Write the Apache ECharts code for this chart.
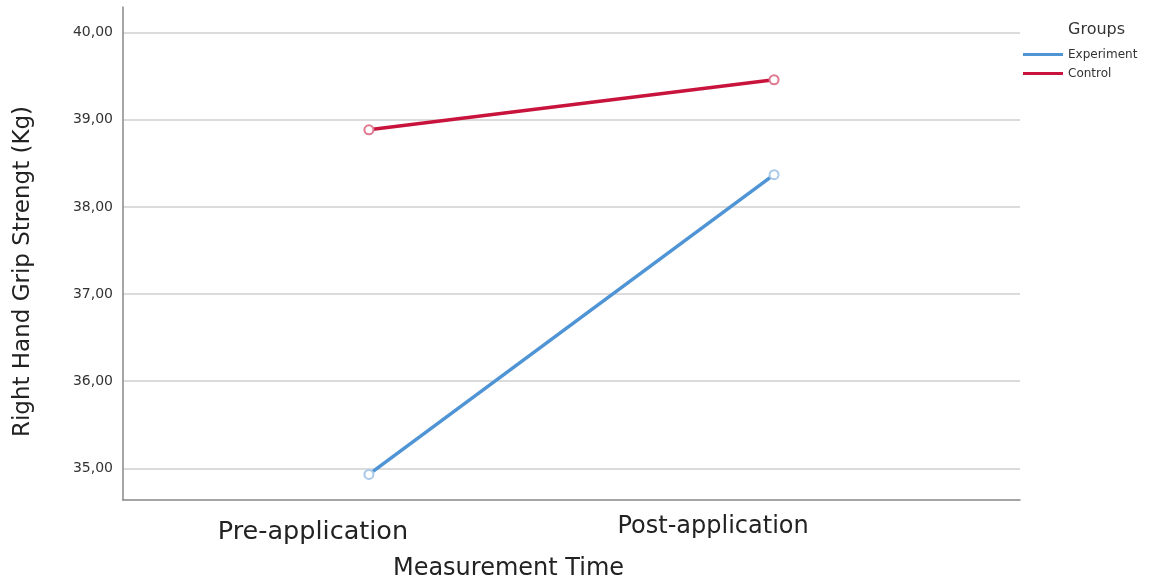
<!DOCTYPE html>
<html>
<head>
<meta charset="utf-8">
<script src="https://cdn.jsdelivr.net/npm/echarts@6/dist/echarts.min.js"></script>
<style>html,body{margin:0;padding:0;background:#fff}#c{width:1149px;height:588px}</style>
</head>
<body>
<div id="c"></div>
<script>
var categories = ['Pre-application', 'Post-application'];
var experiment = [34.93, 38.37];
var control = [38.885, 39.46];
var yTicks = [35, 36, 37, 38, 39, 40];
var seriesNames = ['Experiment', 'Control'];
var lineColors = ['#4f94d4', '#c8143c'];
var markerColors = ['#a8c9ea', '#e07890'];

function pts(vals) { return vals.map(function (v, i) { return [i, v]; }); }

var chart = echarts.init(document.getElementById('c'));
chart.setOption({
  animation: false,
  backgroundColor: '#fff',
  title: {
    text: 'Groups', left: 1068, top: 22, padding: 0,
    textStyle: { fontFamily: 'DejaVu Sans', fontSize: 16, fontWeight: 'normal', color: '#333' }
  },
  legend: {
    orient: 'vertical', left: 1023, top: 45, padding: 0,
    data: seriesNames.map(function (n, i) {
      return { name: n, itemStyle: { color: lineColors[i], borderWidth: 0 } };
    }),
    icon: 'rect', itemWidth: 40, itemHeight: 3, itemGap: 0,
    itemStyle: { borderWidth: 0 },
    textStyle: { fontFamily: 'DejaVu Sans', fontSize: 12, color: '#333', lineHeight: 19 }
  },
  grid: { left: 123, right: 129, top: 7, bottom: 88, containLabel: false },
  xAxis: {
    type: 'value', min: -0.607, max: 1.607,
    name: 'Measurement Time', nameLocation: 'middle', nameGap: 57,
    nameTextStyle: { fontFamily: 'DejaVu Sans', fontSize: 24, color: '#222', padding: [0, 126, 0, 0] },
    axisLine: { show: true, onZero: false, lineStyle: { color: '#888', width: 1.5 } },
    axisTick: { show: false },
    splitLine: { show: false },
    axisLabel: {
      customValues: [0, 1],
      margin: 12,
      formatter: function (v) {
        var i = Math.round(v);
        return i === 0 ? '{a|' + categories[0] + '}' : '{b|' + categories[1] + '}';
      },
      rich: {
        a: { fontFamily: 'DejaVu Sans', fontSize: 25.5, color: '#222', padding: [7, 112, 0, 0] },
        b: { fontFamily: 'DejaVu Sans', fontSize: 24, color: '#222', padding: [3, 122, 0, 0] }
      }
    }
  },
  yAxis: {
    type: 'value', min: 34.636, max: 40.295,
    name: 'Right Hand Grip Strengt (Kg)', nameLocation: 'middle', nameGap: 88,
    nameTextStyle: { fontFamily: 'DejaVu Sans', fontSize: 23, color: '#222', padding: [0, 36, 0, 0] },
    axisLine: { show: true, onZero: false, lineStyle: { color: '#888', width: 1.5 } },
    axisTick: { show: false },
    axisLabel: {
      customValues: yTicks,
      margin: 10,
      fontFamily: 'DejaVu Sans', fontSize: 14, color: '#333',
      formatter: function (v) { return v.toFixed(2).replace('.', ','); }
    },
    splitLine: { show: false }
  },
  series: [
    {
      name: seriesNames[0], type: 'line', data: pts(experiment),
      color: lineColors[0],
      lineStyle: { color: lineColors[0], width: 3.5 },
      symbol: 'emptyCircle', symbolSize: 9,
      itemStyle: { color: markerColors[0], borderColor: markerColors[0], borderWidth: 1.5 },
      markLine: {
        silent: true, symbol: 'none', label: { show: false },
        lineStyle: { color: '#cfcfcf', type: 'solid', width: 1.5 },
        data: yTicks.map(function (t) { return { yAxis: t }; }),
        z: 0
      },
      z: 3
    },
    {
      name: seriesNames[1], type: 'line', data: pts(control),
      color: lineColors[1],
      lineStyle: { color: lineColors[1], width: 3.5 },
      symbol: 'emptyCircle', symbolSize: 9,
      itemStyle: { color: markerColors[1], borderColor: markerColors[1], borderWidth: 1.5 },
      z: 3
    }
  ]
});
</script>
</body>
</html>
